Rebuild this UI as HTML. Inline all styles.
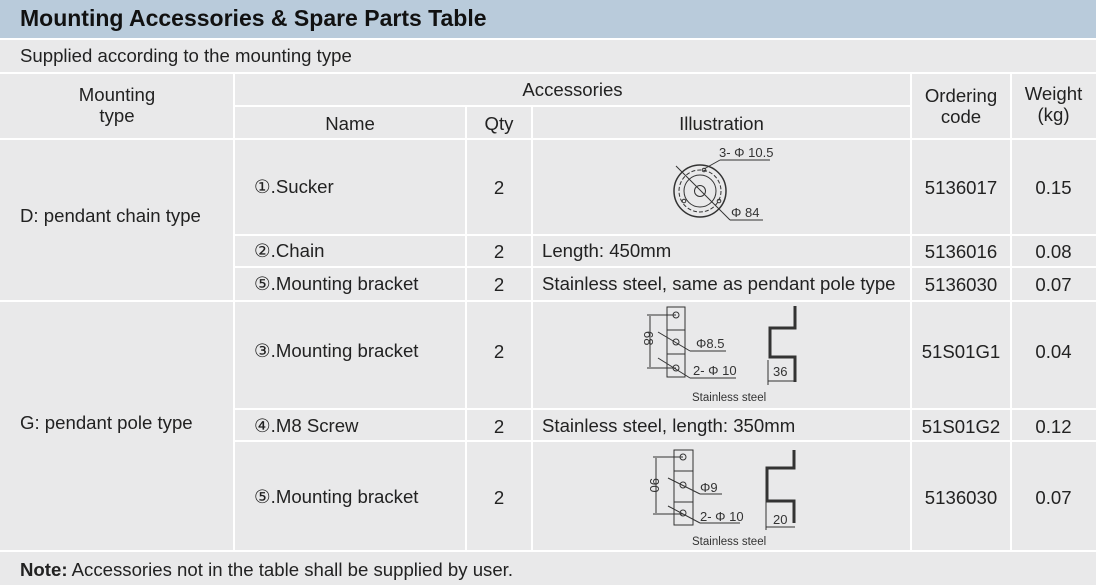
<!DOCTYPE html>
<html><head><meta charset="utf-8"><style>
body{margin:0;width:1096px;height:585px;background:#e9e9ea;position:relative;overflow:hidden;font-family:"Liberation Sans",sans-serif;color:#222;}
.t{position:absolute;font-size:18.6px;white-space:nowrap;}
.c{position:absolute;text-align:center;font-size:18.6px;line-height:21px;white-space:nowrap;}
.h{position:absolute;background:#fff;height:2px;}
.v{position:absolute;background:#fff;width:2px;}
</style></head><body>
<div style="position:absolute;left:0;top:0;width:1096px;height:38px;background:#b9cbdb;"></div>
<div class="t" style="left:20px;top:5px;font-size:23px;font-weight:bold;color:#111;">Mounting Accessories &amp; Spare Parts Table</div>
<div class="h" style="left:0;top:38px;width:1096px;"></div>
<div class="t" style="left:20px;top:45px;">Supplied according to the mounting type</div>
<div class="h" style="left:0;top:72px;width:1096px;"></div>
<div class="h" style="left:234px;top:105px;width:677px;"></div>
<div class="h" style="left:0;top:138px;width:1096px;"></div>
<div class="h" style="left:234px;top:234px;width:862px;"></div>
<div class="h" style="left:234px;top:266px;width:862px;"></div>
<div class="h" style="left:0;top:300px;width:1096px;"></div>
<div class="h" style="left:234px;top:408px;width:862px;"></div>
<div class="h" style="left:234px;top:440px;width:862px;"></div>
<div class="h" style="left:0;top:550px;width:1096px;"></div>
<div class="v" style="left:233px;top:72px;height:478px;"></div>
<div class="v" style="left:465px;top:105px;height:445px;"></div>
<div class="v" style="left:531px;top:105px;height:445px;"></div>
<div class="v" style="left:910px;top:72px;height:478px;"></div>
<div class="v" style="left:1010px;top:72px;height:478px;"></div>

<div class="c" style="left:0;width:234px;top:84px;">Mounting<br>type</div>
<div class="c" style="left:234px;width:677px;top:79px;">Accessories</div>
<div class="c" style="left:234px;width:232px;top:113px;">Name</div>
<div class="c" style="left:466px;width:66px;top:113px;">Qty</div>
<div class="c" style="left:532px;width:379px;top:113px;">Illustration</div>
<div class="c" style="left:911px;width:100px;top:85px;">Ordering<br>code</div>
<div class="c" style="left:1011px;width:85px;top:83px;">Weight<br>(kg)</div>

<div class="t" style="left:20px;top:205px;">D: pendant chain type</div>
<div class="t" style="left:20px;top:412px;">G: pendant pole type</div>

<div class="t" style="left:254px;top:176px;">①.Sucker</div>
<div class="t" style="left:254px;top:240px;">②.Chain</div>
<div class="t" style="left:254px;top:273px;">⑤.Mounting bracket</div>
<div class="t" style="left:254px;top:340px;">③.Mounting bracket</div>
<div class="t" style="left:254px;top:415px;">④.M8 Screw</div>
<div class="t" style="left:254px;top:486px;">⑤.Mounting bracket</div>

<div class="c" style="left:466px;width:66px;top:177px;">2</div>
<div class="c" style="left:466px;width:66px;top:241px;">2</div>
<div class="c" style="left:466px;width:66px;top:274px;">2</div>
<div class="c" style="left:466px;width:66px;top:341px;">2</div>
<div class="c" style="left:466px;width:66px;top:416px;">2</div>
<div class="c" style="left:466px;width:66px;top:487px;">2</div>

<div class="t" style="left:542px;top:240px;">Length: 450mm</div>
<div class="t" style="left:542px;top:273px;">Stainless steel, same as pendant pole type</div>
<div class="t" style="left:542px;top:415px;">Stainless steel, length: 350mm</div>

<div class="c" style="left:911px;width:100px;top:177px;">5136017</div>
<div class="c" style="left:911px;width:100px;top:241px;">5136016</div>
<div class="c" style="left:911px;width:100px;top:274px;">5136030</div>
<div class="c" style="left:911px;width:100px;top:341px;">51S01G1</div>
<div class="c" style="left:911px;width:100px;top:416px;">51S01G2</div>
<div class="c" style="left:911px;width:100px;top:487px;">5136030</div>
<div class="c" style="left:1011px;width:85px;top:177px;">0.15</div>
<div class="c" style="left:1011px;width:85px;top:241px;">0.08</div>
<div class="c" style="left:1011px;width:85px;top:274px;">0.07</div>
<div class="c" style="left:1011px;width:85px;top:341px;">0.04</div>
<div class="c" style="left:1011px;width:85px;top:416px;">0.12</div>
<div class="c" style="left:1011px;width:85px;top:487px;">0.07</div>

<div class="t" style="left:20px;top:559px;"><b>Note:</b> Accessories not in the table shall be supplied by user.</div>

<svg style="position:absolute;left:0;top:0" width="1096" height="585" font-family="Liberation Sans, sans-serif" fill="none" stroke="#333" stroke-width="1">
<!-- sucker -->
<circle cx="700" cy="191" r="26" stroke-width="1.5"/>
<circle cx="700" cy="191" r="21" stroke-dasharray="4,2"/>
<circle cx="700" cy="191" r="16"/>
<circle cx="700" cy="191" r="5.5"/>
<circle cx="704" cy="170" r="1.8"/><circle cx="684" cy="201" r="1.8"/><circle cx="719" cy="201" r="1.8"/>
<line x1="676" y1="166" x2="722" y2="212"/>
<line x1="704" y1="169" x2="720" y2="160"/><line x1="720" y1="160" x2="770" y2="160"/>
<line x1="722" y1="212" x2="730" y2="220"/><line x1="730" y1="220" x2="763" y2="220"/>
<g fill="#333" stroke="none" font-size="13"><text x="719" y="157">3- Φ 10.5</text><text x="731" y="217">Φ 84</text></g>
<!-- bracket 1 -->
<rect x="667" y="307" width="18" height="70"/>
<line x1="667" y1="330" x2="685" y2="330"/><line x1="667" y1="354" x2="685" y2="354"/>
<circle cx="676" cy="315" r="3"/><circle cx="676" cy="342" r="3"/><circle cx="676" cy="368" r="3"/>
<line x1="647" y1="315" x2="676" y2="315"/><line x1="647" y1="368" x2="676" y2="368"/>
<line x1="650" y1="316" x2="650" y2="367"/>
<line x1="658" y1="332" x2="690" y2="351"/><line x1="690" y1="351" x2="726" y2="351"/>
<line x1="658" y1="358" x2="690" y2="378"/><line x1="690" y1="378" x2="736" y2="378"/>
<path d="M795 306 V328 H770 V357 H795 V382" stroke-width="3"/>
<line x1="768" y1="360" x2="768" y2="385"/><line x1="768" y1="381" x2="795" y2="381"/>
<g fill="#333" stroke="none" font-size="13"><text x="696" y="348">Φ8.5</text><text x="693" y="375">2- Φ 10</text><text x="773" y="376">36</text><text x="692" y="401" font-size="11.5">Stainless steel</text>
<text x="0" y="0" transform="translate(644,331) rotate(90)">68</text></g>
<!-- bracket 2 -->
<rect x="674" y="450" width="19" height="75"/>
<line x1="674" y1="471" x2="693" y2="471"/><line x1="674" y1="502" x2="693" y2="502"/>
<circle cx="683" cy="457" r="3"/><circle cx="683" cy="485" r="3"/><circle cx="683" cy="513" r="3"/>
<line x1="653" y1="457" x2="683" y2="457"/><line x1="653" y1="514" x2="683" y2="514"/>
<line x1="656" y1="458" x2="656" y2="513"/>
<line x1="668" y1="478" x2="700" y2="494"/><line x1="700" y1="494" x2="722" y2="494"/>
<line x1="668" y1="506" x2="700" y2="523"/><line x1="700" y1="523" x2="740" y2="523"/>
<path d="M794 450 V468 H767 V501 H794 V523" stroke-width="3"/>
<line x1="766" y1="500" x2="766" y2="530"/><line x1="766" y1="527" x2="795" y2="527"/>
<g fill="#333" stroke="none" font-size="13"><text x="700" y="492">Φ9</text><text x="700" y="521">2- Φ 10</text><text x="773" y="524">20</text><text x="692" y="545" font-size="11.5">Stainless steel</text>
<text x="0" y="0" transform="translate(650,478) rotate(90)">90</text></g>
</svg>
</body></html>
